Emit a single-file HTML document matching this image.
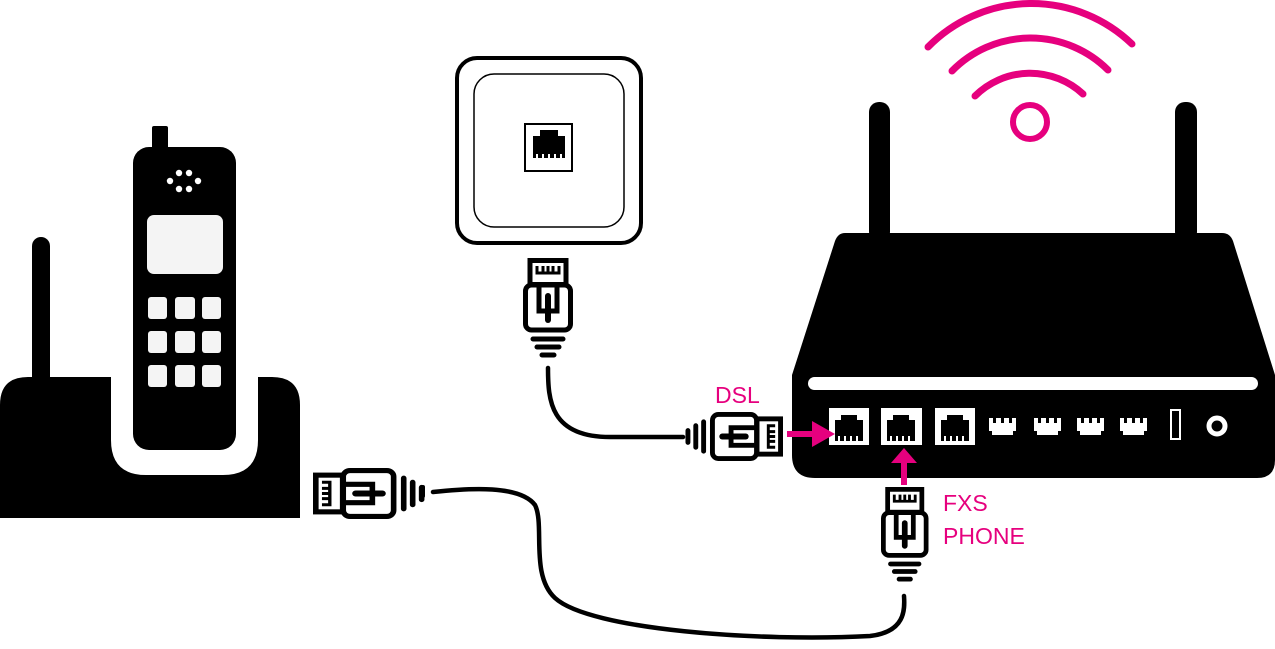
<!DOCTYPE html>
<html><head><meta charset="utf-8"><style>
html,body{margin:0;padding:0;background:#fff;}
svg{display:block;}
text{font-family:"Liberation Sans",sans-serif;}
</style></head><body>
<svg width="1275" height="649" viewBox="0 0 1275 649" xmlns="http://www.w3.org/2000/svg">
<defs>
  <g id="plug">
    <rect x="7" y="2.5" width="36" height="24" fill="none" stroke="#000" stroke-width="5"/>
    <path d="M14 8 v7 h22 v-7 M20 8 v7 M25 8 v7 M30 8 v7" fill="none" stroke="#000" stroke-width="3"/>
    <rect x="2.5" y="27" width="45" height="45" rx="6" fill="none" stroke="#000" stroke-width="5"/>
    <path d="M16 27 v26 h18 v-26" fill="none" stroke="#000" stroke-width="5"/>
    <path d="M25 38 v24" stroke="#000" stroke-width="6" stroke-linecap="round"/>
    <path d="M10 81 h30 M14 89 h22 M19 97 h12" stroke="#000" stroke-width="5" stroke-linecap="round"/>
  </g>
  <g id="jack">
    <path d="M-14 -8 h6 v-5 h16 v5 h6 v21 h-28 z" fill="#000"/>
    <path d="M-10 8 v5 M-4 8 v5 M2 8 v5 M8 8 v5" stroke="#fff" stroke-width="2"/>
  </g>
  <g id="sport">
    <path d="M0 0 h4 v5 h3 v-5 h5 v5 h3 v-5 h5 v5 h3 v-5 h4 v13 h-3 v4 h-21 v-4 h-3 z" fill="#fff"/>
  </g>
</defs>

<!-- cordless phone -->
<rect x="32" y="237" width="18" height="150" rx="9" fill="#000"/>
<path d="M0 405 Q0 377 28 377 H111 V440 Q111 475 146 475 H223 Q258 475 258 440 V377 H272 Q300 377 300 405 V518 H0 Z" fill="#000"/>
<rect x="152" y="126" width="16" height="30" rx="2" fill="#000"/>
<rect x="133" y="147" width="103" height="303" rx="16" fill="#000"/>
<g fill="#fff">
  <circle cx="179" cy="173" r="3.2"/><circle cx="189" cy="173" r="3.2"/>
  <circle cx="170" cy="181" r="3.2"/><circle cx="198" cy="181" r="3.2"/>
  <circle cx="179" cy="189" r="3.2"/><circle cx="189" cy="189" r="3.2"/>
</g>
<rect x="147" y="215" width="76" height="59" rx="7" fill="#f4f4f4"/>
<g fill="#f4f4f4">
  <rect x="148" y="297" width="19" height="22" rx="3"/><rect x="175" y="297" width="20" height="22" rx="3"/><rect x="202" y="297" width="19" height="22" rx="3"/>
  <rect x="148" y="331" width="19" height="22" rx="3"/><rect x="175" y="331" width="20" height="22" rx="3"/><rect x="202" y="331" width="19" height="22" rx="3"/>
  <rect x="148" y="365" width="19" height="22" rx="3"/><rect x="175" y="365" width="20" height="22" rx="3"/><rect x="202" y="365" width="19" height="22" rx="3"/>
</g>

<!-- wall socket -->
<rect x="457" y="58" width="184" height="185" rx="20" fill="#fff" stroke="#000" stroke-width="4"/>
<rect x="474" y="74" width="150" height="153" rx="20" fill="none" stroke="#000" stroke-width="1.5"/>
<rect x="525" y="124" width="47" height="47" fill="#fff" stroke="#000" stroke-width="2"/>
<path d="M533 136 h7 v-6 h18 v6 h7 v22 h-32 z" fill="#000"/>
<path d="M537 154 v5 M543 154 v5 M549 154 v5 M555 154 v5 M561 154 v5" stroke="#fff" stroke-width="2"/>

<!-- cables -->
<path d="M548 368 C548 400 550 437 610 437 L683 437" fill="none" stroke="#000" stroke-width="4.5" stroke-linecap="round"/>
<path d="M433 492 C470 488 520 485 535 505 C545 525 530 575 555 598 C590 630 760 642 870 636 C905 632 905 610 904 596" fill="none" stroke="#000" stroke-width="4.5" stroke-linecap="round"/>
<rect x="420" y="485" width="5" height="13" rx="2" fill="#000"/>

<!-- plugs -->
<use href="#plug" transform="translate(523,258)"/>
<use href="#plug" transform="translate(881,487) scale(0.95)"/>
<use href="#plug" transform="translate(783,412) rotate(90) scale(0.98)"/>
<use href="#plug" transform="translate(313,519) rotate(-90) scale(1.02,1.12)"/>

<!-- router -->
<rect x="869" y="102" width="21" height="140" rx="10" fill="#000"/>
<rect x="1175" y="102" width="22" height="140" rx="10" fill="#000"/>
<path d="M845 233 H1222 Q1230 233 1233 241 L1275 375 V460 Q1275 478 1257 478 H815 Q792 478 792 455 V375 L835 241 Q838 233 845 233 Z" fill="#000"/>
<rect x="808" y="377" width="450" height="13" rx="6.5" fill="#fff"/>
<rect x="829" y="408" width="40" height="37" fill="#fff"/>
<rect x="881" y="408" width="41" height="37" fill="#fff"/>
<rect x="935" y="408" width="40" height="37" fill="#fff"/>
<use href="#jack" transform="translate(849,428)"/>
<use href="#jack" transform="translate(901,428)"/>
<use href="#jack" transform="translate(955,428)"/>
<use href="#sport" transform="translate(989,418)"/>
<use href="#sport" transform="translate(1034,418)"/>
<use href="#sport" transform="translate(1077,418)"/>
<use href="#sport" transform="translate(1120,418)"/>
<rect x="1171" y="410" width="9" height="29" fill="none" stroke="#fff" stroke-width="2"/>
<circle cx="1217" cy="426" r="8" fill="none" stroke="#fff" stroke-width="5"/>

<!-- wifi -->
<g fill="none" stroke="#e6007e" stroke-width="7" stroke-linecap="round">
  <circle cx="1030" cy="122" r="17" stroke-width="6"/>
  <path d="M975 96 A78 78 0 0 1 1083 94"/>
  <path d="M952 71 A110 110 0 0 1 1108 70"/>
  <path d="M928 47 A145 145 0 0 1 1132 44"/>
</g>

<!-- arrows -->
<path d="M787 434 H815" stroke="#e6007e" stroke-width="6"/>
<path d="M812 421 L835 434 L812 447 Z" fill="#e6007e"/>
<path d="M904 485 V460" stroke="#e6007e" stroke-width="6"/>
<path d="M891 463 L904 448 L917 463 Z" fill="#e6007e"/>

<text x="715" y="403" font-size="23" fill="#e6007e">DSL</text>
<text x="943" y="511" font-size="23" fill="#e6007e">FXS</text>
<text x="943" y="544" font-size="23" fill="#e6007e">PHONE</text>
</svg>
</body></html>
